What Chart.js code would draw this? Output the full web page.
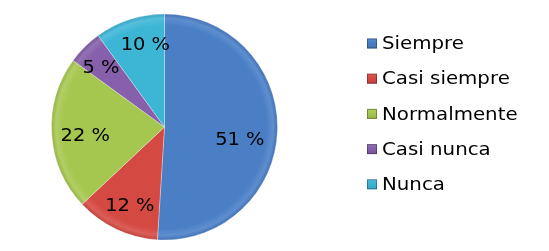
<!DOCTYPE html>
<html>
<head>
<meta charset="utf-8">
<script src="https://cdn.jsdelivr.net/npm/chart.js@4"></script>
<style>
  html, body { margin: 0; padding: 0; background: #fff; }
  #wrap { width: 549px; height: 251px; }
</style>
</head>
<body>
<div id="wrap"><canvas id="c"></canvas></div>
<script>
const categories = ['Siempre', 'Casi siempre', 'Normalmente', 'Casi nunca', 'Nunca'];
const percents = [51, 12, 22, 5, 10];
const sliceColors = ['#4a7fc6', '#d44a43', '#a6c74f', '#8660ab', '#3db6d6'];
const rimLight = ['#5f8ecf', '#db5f59', '#b2cf66', '#9273b5', '#55bfdc'];
const rimDark = ['#4272b4', '#c0423c', '#95b546', '#77569a', '#37a4c2'];
// nudges for the value labels, they don't sit exactly on the mid radius
const labelNudge = [[-6, 11], [0, 6], [2, 4], [-6, -1], [6, -4]];

const FONT = '"DejaVu Sans", Verdana, sans-serif';

// slightly stretched text, the source image is a bit wide
function stretchedText(ctx, text, x, y, align, sx) {
  ctx.save();
  ctx.translate(x, y);
  ctx.scale(sx, 1);
  ctx.textAlign = align;
  ctx.fillText(text, 0, 0);
  ctx.restore();
}

function sliceFill(c) {
  const i = c.dataIndex;
  const meta = c.chart.getDatasetMeta(0);
  const arc = meta && meta.data[i];
  if (!arc || !arc.outerRadius) return sliceColors[i];
  const g = c.chart.ctx.createRadialGradient(arc.x, arc.y, 0, arc.x, arc.y, arc.outerRadius);
  g.addColorStop(0, sliceColors[i]);
  g.addColorStop(0.9, sliceColors[i]);
  g.addColorStop(0.96, rimLight[i]);
  g.addColorStop(1, rimDark[i]);
  return g;
}

const sliceLabels = {
  id: 'sliceLabels',
  afterDatasetsDraw(chart) {
    const ctx = chart.ctx;
    const meta = chart.getDatasetMeta(0);
    ctx.save();
    ctx.fillStyle = '#000';
    ctx.font = '18px ' + FONT;
    ctx.textBaseline = 'middle';
    meta.data.forEach((arc, i) => {
      const mid = (arc.startAngle + arc.endAngle) / 2;
      const r = arc.outerRadius * 0.72;
      const [dx, dy] = labelNudge[i];
      stretchedText(ctx, percents[i] + ' %', arc.x + Math.cos(mid) * r + dx, arc.y + Math.sin(mid) * r + dy, 'center', 1.08);
    });
    ctx.restore();
  },
};

const sideLegend = {
  id: 'sideLegend',
  afterDraw(chart) {
    const ctx = chart.ctx;
    ctx.save();
    ctx.font = '18px ' + FONT;
    ctx.textBaseline = 'middle';
    categories.forEach((name, i) => {
      const y = 43.5 + i * 35.2;
      const g = ctx.createLinearGradient(0, y - 5, 0, y + 5);
      g.addColorStop(0, rimLight[i]);
      g.addColorStop(0.4, sliceColors[i]);
      g.addColorStop(1, rimDark[i]);
      ctx.fillStyle = g;
      ctx.fillRect(367, y - 5, 10, 10);
      ctx.strokeStyle = 'rgba(0,0,0,0.3)';
      ctx.lineWidth = 1;
      ctx.strokeRect(367.5, y - 4.5, 9, 9);
      ctx.fillStyle = '#000';
      stretchedText(ctx, name, 382, y + 1, 'left', 1.1);
    });
    ctx.restore();
  },
};

const chart = new Chart(document.getElementById('c'), {
  type: 'pie',
  data: {
    labels: categories,
    datasets: [{
      data: percents,
      backgroundColor: sliceFill,
      borderColor: 'rgba(255,255,255,0.3)',
      borderWidth: 1,
    }],
  },
  options: {
    responsive: true, maintainAspectRatio: false, animation: false,
    layout: { padding: { left: 51, right: 271, top: 13, bottom: 10 } },
    plugins: {
      legend: { display: false },
      tooltip: { enabled: false },
    },
  },
  plugins: [sliceLabels, sideLegend],
});
// second pass so the gradients see the arc geometry
chart.update();
</script>
</body>
</html>
